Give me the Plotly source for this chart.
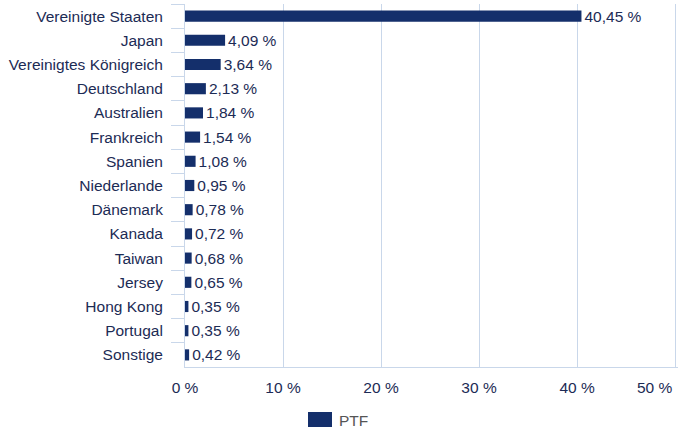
"""Länderallokation des PTF als horizontales Balkendiagramm."""

import plotly.graph_objects as go

countries = [
    "Vereinigte Staaten",
    "Japan",
    "Vereinigtes Königreich",
    "Deutschland",
    "Australien",
    "Frankreich",
    "Spanien",
    "Niederlande",
    "Dänemark",
    "Kanada",
    "Taiwan",
    "Jersey",
    "Hong Kong",
    "Portugal",
    "Sonstige",
]
weights = [40.45, 4.09, 3.64, 2.13, 1.84, 1.54, 1.08, 0.95, 0.78, 0.72, 0.68, 0.65, 0.35, 0.35, 0.42]
tick_values = [0, 10, 20, 30, 40, 50]
tick_labels = ["0 %", "10 %", "20 %", "30 %", "40 %", "50 %"]
series_name = "PTF"

NAVY = "#142f6b"
TEXT = "#1c2b55"
GRID = "#c9d7ea"
FONT = "Liberation Sans, Arial, sans-serif"
FS = 15.5

# the last label sits flush with the right edge, so it is placed separately
tick_text = tick_labels[:-1] + [""]

fig = go.Figure()
fig.add_trace(
    go.Bar(
        x=weights,
        y=countries,
        orientation="h",
        name=series_name,
        marker=dict(color=NAVY, line=dict(width=0)),
        width=0.46,
        text=[f"{v:.2f} %".replace(".", ",") for v in weights],
        textposition="outside",
        constraintext="none",
        textfont=dict(color=TEXT, size=FS, family=FONT),
        cliponaxis=False,
        showlegend=False,
        hoverinfo="skip",
    )
)

fig.add_annotation(
    text=tick_labels[-1], xref="x", yref="paper",
    x=tick_values[-1], y=-(387 - 367) / 363,
    xanchor="right", yanchor="middle", showarrow=False,
    font=dict(color=TEXT, size=FS, family=FONT),
)

# legend drawn by hand: plotly's bar legend swatch is too small
fig.add_shape(
    type="rect", xref="paper", yref="paper",
    x0=(308 - 185) / 493, x1=(332 - 185) / 493,
    y0=-(412 - 367) / 363, y1=-(427 - 367) / 363,
    fillcolor=NAVY, line=dict(width=0),
)
fig.add_annotation(
    text=series_name, xref="paper", yref="paper",
    x=(337 - 185) / 493, y=-(420 - 367) / 363,
    xanchor="left", yanchor="middle", showarrow=False,
    font=dict(color="#555555", size=FS, family=FONT),
)

fig.update_layout(
    width=678,
    height=432,
    margin=dict(l=185, r=0, t=4, b=65, autoexpand=False),
    paper_bgcolor="white",
    plot_bgcolor="white",
    font=dict(family=FONT, size=FS, color=TEXT),
    showlegend=False,
    xaxis=dict(
        range=[0, 50.3],
        tickvals=tick_values,
        ticktext=tick_text,
        showgrid=True,
        gridcolor=GRID,
        gridwidth=1,
        zeroline=False,
        showline=True,
        linecolor=GRID,
        linewidth=1,
        ticks="",
        ticklabelstandoff=6,
        automargin=False,
        tickfont=dict(color=TEXT, size=FS),
    ),
    yaxis=dict(
        autorange="reversed",
        showgrid=False,
        showline=True,
        linecolor=GRID,
        linewidth=1,
        ticks="outside",
        tickson="boundaries",
        ticklen=13,
        tickcolor=GRID,
        ticklabelstandoff=18,
        automargin=False,
        tickfont=dict(color=TEXT, size=FS),
    ),
)

# drop the browser's default 8px body margin so the figure sits at 0,0
fig.write_html(
    "out.html",
    config={"displayModeBar": False},
    post_script="document.body.style.margin = '0';",
)
